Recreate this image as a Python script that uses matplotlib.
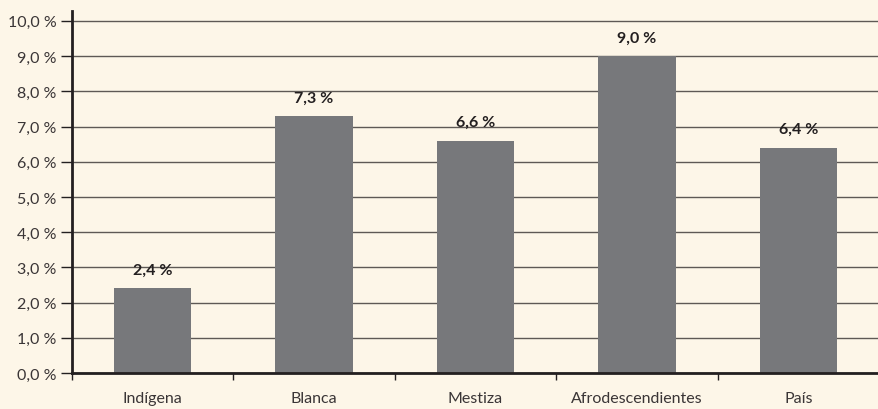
import numpy as np
import matplotlib.pyplot as plt
from matplotlib.ticker import FuncFormatter

categories = ["Indígena", "Blanca", "Mestiza", "Afrodescendientes", "País"]
values = [2.4, 7.3, 6.6, 9.0, 6.4]
yticks = np.arange(0, 10.5, 1.0)

bg = "#fdf6e8"
bar_color = "#77787b"

plt.rcParams['font.family'] = ['Lato', 'DejaVu Sans']

fig = plt.figure(figsize=(8.79, 4.10), dpi=100, facecolor=bg)
ax = fig.add_axes([72 / 879, 1 - 374 / 410, 1 - 72 / 879, (374 - 12) / 410])
ax.set_facecolor(bg)

x = np.arange(len(categories))
ax.bar(x, values, width=0.48, color=bar_color, zorder=3)

for xi, v in zip(x, values):
    ax.text(xi, v + 0.33, f"{v:.1f} %".replace(".", ","), ha="center", va="bottom",
            fontsize=11.5, fontweight="bold", color="#231f20")

ax.set_xlim(-0.5, len(categories) - 0.5)
ax.set_ylim(0, 10.28)
ax.set_yticks(yticks)
ax.yaxis.set_major_formatter(FuncFormatter(lambda v, p: f"{v:.1f} %".replace(".", ",")))
ax.grid(axis="y", color="#5e5955", linewidth=1.0, zorder=1)

# category labels centered, tick marks on boundaries
ax.set_xticks(x)
ax.set_xticklabels(categories)
ax.set_xticks(np.arange(len(categories) + 1) - 0.5, minor=True)
ax.tick_params(axis="x", which="major", length=0, pad=13, labelsize=11.5, labelcolor="#3a3536")
ax.tick_params(axis="x", which="minor", length=5, width=1, color="#231f20", direction="out")
ax.tick_params(axis="y", length=8, width=1, color="#231f20", labelsize=11.5, labelcolor="#3a3536", pad=3)

for s in ["top", "right"]:
    ax.spines[s].set_visible(False)
for s in ["left", "bottom"]:
    ax.spines[s].set_linewidth(2)
    ax.spines[s].set_color("#231f20")
ax.spines["bottom"].set_zorder(4)

fig.savefig("out.png", dpi=100, facecolor=bg)
